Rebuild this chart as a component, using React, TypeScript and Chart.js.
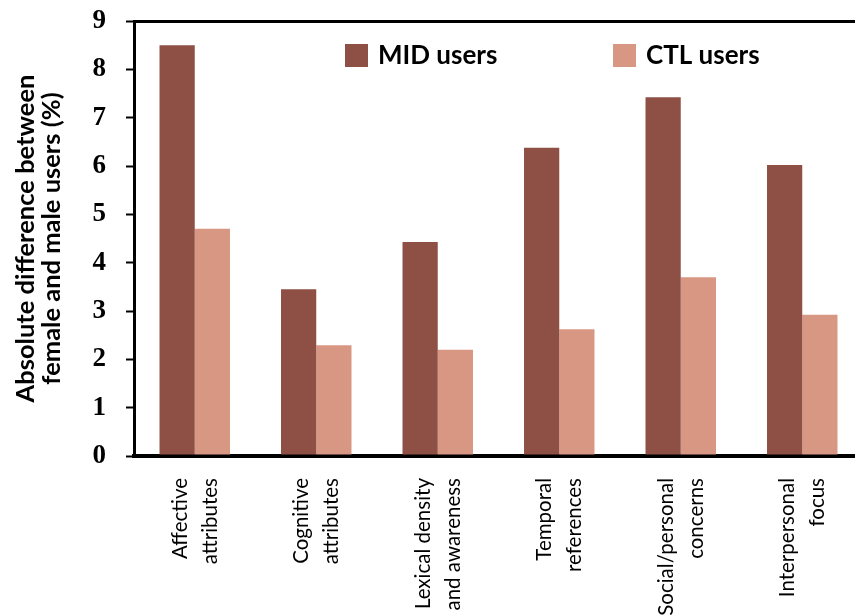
import React, { useEffect, useRef } from "react";
import { Chart, registerables } from "chart.js";

Chart.register(...registerables);

const categories: string[][] = [
  ["Affective", "attributes"],
  ["Cognitive", "attributes"],
  ["Lexical density", "and awareness"],
  ["Temporal", "references"],
  ["Social/personal", "concerns"],
  ["Interpersonal", "focus"],
];
const midUsers = [8.5, 3.45, 4.43, 6.38, 7.42, 6.02];
const ctlUsers = [4.7, 2.29, 2.2, 2.62, 3.7, 2.92];
const yTitle = ["Absolute difference between", "female and male users (%)"];
const seriesNames = ["MID users", "CTL users"];

const DARK = "#8E5044";
const LIGHT = "#D89783";

const legendPlugin = {
  id: "customLegend",
  afterDraw(chart: any) {
    const ctx = chart.ctx;
    const xs = [345, 613];
    ctx.save();
    chart.data.datasets.forEach((ds: any, i: number) => {
      ctx.fillStyle = ds.backgroundColor;
      ctx.fillRect(xs[i], 44, 23, 23);
      ctx.fillStyle = "#000";
      ctx.font = "bold 26px Lato";
      ctx.textBaseline = "middle";
      ctx.textAlign = "left";
      ctx.fillText(ds.label, xs[i] + 33, 56);
    });
    ctx.restore();
  },
};

export default function App() {
  const ref = useRef<HTMLCanvasElement | null>(null);
  useEffect(() => {
    if (!ref.current) return;
    const chart = new Chart(ref.current, {
      type: "bar",
      data: {
        labels: categories,
        datasets: [
          { label: seriesNames[0], data: midUsers, backgroundColor: DARK, borderWidth: 0 },
          { label: seriesNames[1], data: ctlUsers, backgroundColor: LIGHT, borderWidth: 0 },
        ],
      },
      options: {
        responsive: false,
        animation: false,
        devicePixelRatio: 1,
        layout: { padding: { top: 21, right: 27, left: 0, bottom: 0 } },
        datasets: { bar: { categoryPercentage: 0.58, barPercentage: 1 } },
        plugins: { legend: { display: false }, tooltip: { enabled: false } },
        scales: {
          x: {
            grid: { display: false, drawTicks: false },
            border: { display: true, color: "#000", width: 4 },
            ticks: {
              autoSkip: false,
              maxRotation: 90,
              minRotation: 90,
              padding: 22,
              labelOffset: -14.5,
              color: "#000",
              font: { family: "Lato", size: 20.5, lineHeight: 1.45 },
            },
            afterFit: (s: any) => {
              s.height = 194;
              s.paddingTop = 0;
              s.paddingBottom = 0;
              s.paddingLeft = 0;
              s.paddingRight = 0;
            },
          },
          y: {
            min: 0,
            max: 9,
            ticks: {
              stepSize: 1,
              padding: 20,
              color: "#000",
              font: { family: "Liberation Serif", size: 27, weight: "bold" },
            },
            grid: {
              display: true,
              drawOnChartArea: true,
              color: (c: any) => (c.tick && c.tick.value === 9 ? "#000" : "rgba(0,0,0,0)"),
              lineWidth: 3,
              tickColor: "#000",
              tickLength: 8,
              tickWidth: 2,
            },
            border: { display: true, color: "#000", width: 3 },
            title: {
              display: true,
              text: yTitle,
              color: "#000",
              padding: { top: 13, bottom: 0 },
              font: { family: "Lato", size: 25.5, weight: "bold", lineHeight: 1.02 },
            },
            afterFit: (s: any) => {
              s.width = 134;
              s.paddingTop = 0;
              s.paddingBottom = 0;
            },
          },
        },
      },
      plugins: [legendPlugin],
    });
    return () => chart.destroy();
  }, []);
  return (
    <div
      style={{
        position: "fixed",
        left: 0,
        top: 0,
        width: 855,
        height: 616,
        overflow: "hidden",
        background: "#fff",
      }}
    >
      <canvas ref={ref} width={890} height={650} style={{ width: 890, height: 650, display: "block" }} />
    </div>
  );
}
